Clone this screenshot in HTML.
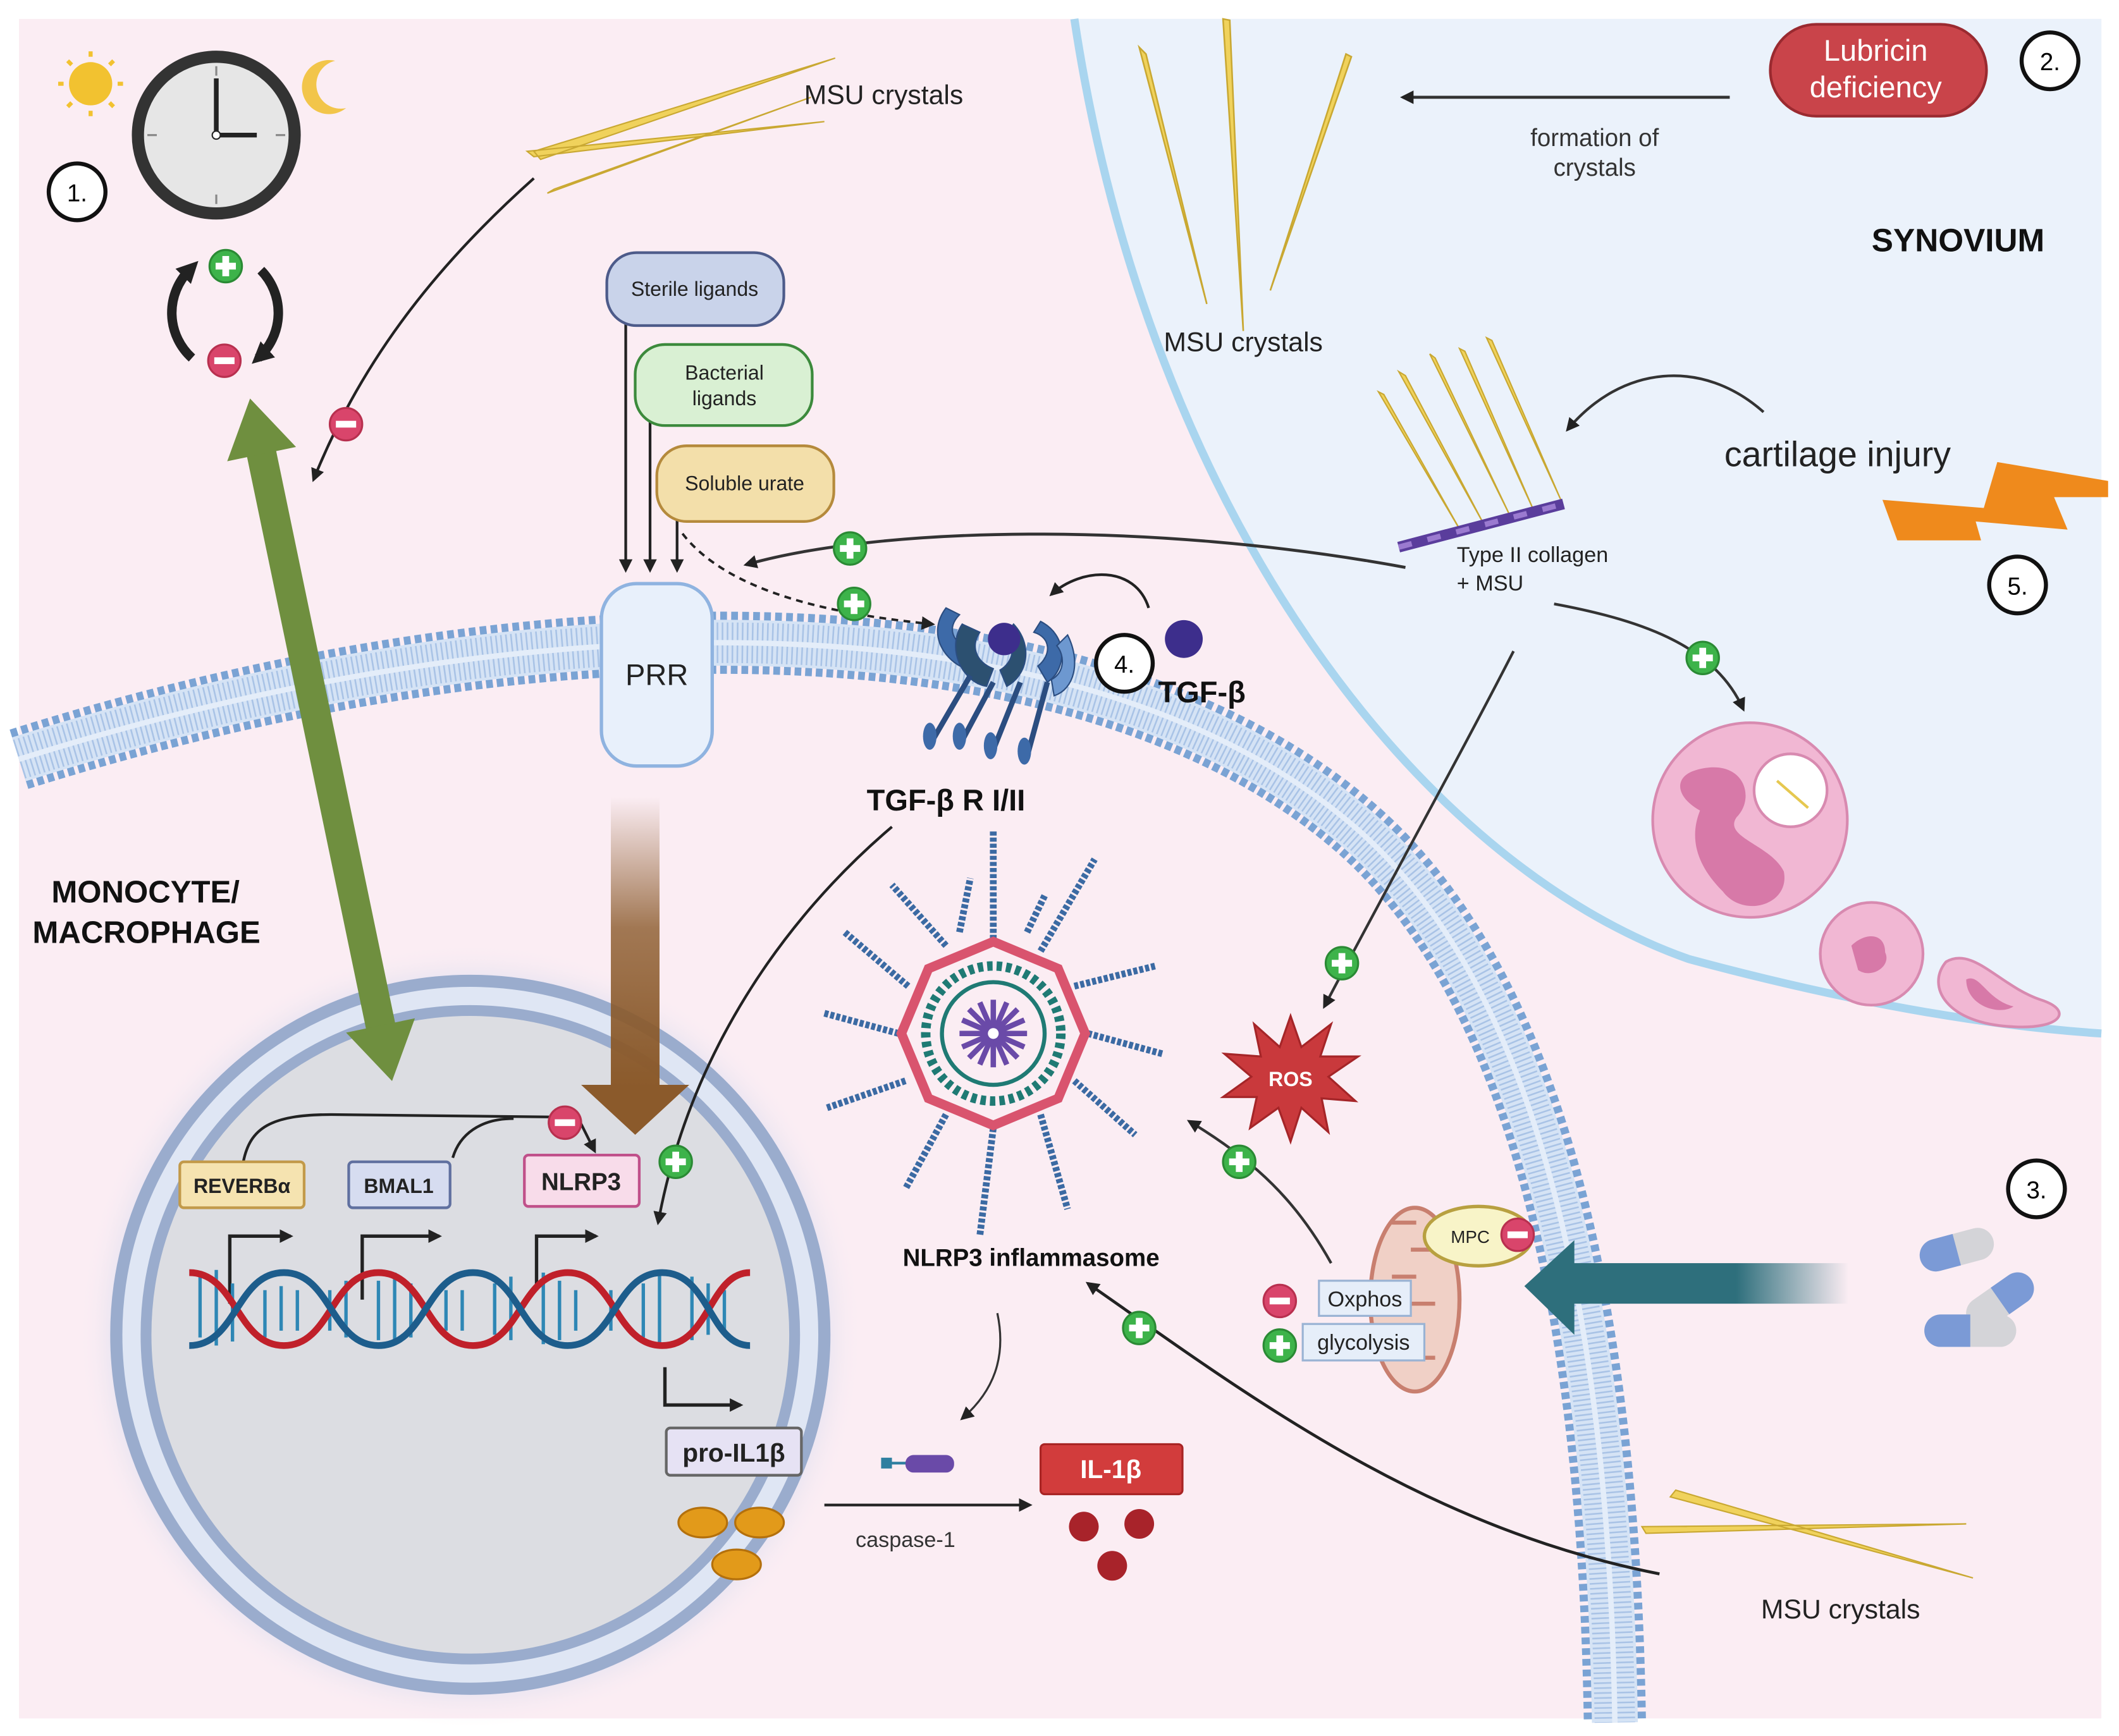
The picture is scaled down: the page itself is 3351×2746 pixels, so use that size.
<!DOCTYPE html>
<html><head><meta charset="utf-8"><style>
html,body{margin:0;padding:0;background:#fff;}
svg{display:block;}
text{font-family:"Liberation Sans",sans-serif;}
</style></head><body>
<svg width="3351" height="2746" viewBox="0 0 1568 1285" xmlns="http://www.w3.org/2000/svg">
<defs>
<marker id="ah" viewBox="0 0 10 10" refX="8" refY="5" markerWidth="10" markerHeight="10" markerUnits="userSpaceOnUse" orient="auto"><path d="M0,0 L10,5 L0,10 z" fill="#222"/></marker>
<marker id="ahb" viewBox="0 0 10 10" refX="6" refY="5" markerWidth="16" markerHeight="16" markerUnits="userSpaceOnUse" orient="auto"><path d="M0,0 L10,5 L0,10 z" fill="#222"/></marker>
<marker id="ahbs" viewBox="0 0 10 10" refX="4" refY="5" markerWidth="16" markerHeight="16" markerUnits="userSpaceOnUse" orient="auto-start-reverse"><path d="M0,0 L10,5 L0,10 z" fill="#222"/></marker>
<g id="plus"><circle r="12" fill="#3db34a" stroke="#2a8a34" stroke-width="1.5"/><rect x="-7.5" y="-2.5" width="15" height="5" fill="#fff"/><rect x="-2.5" y="-7.5" width="5" height="15" fill="#fff"/></g>
<g id="minus"><circle r="12" fill="#d9456b" stroke="#b8304f" stroke-width="1.5"/><rect x="-7.5" y="-2.5" width="15" height="5" fill="#fff"/></g>
<linearGradient id="brown" x1="0" y1="0" x2="0" y2="1"><stop offset="0" stop-color="#8b5a2b" stop-opacity="0"/><stop offset="0.45" stop-color="#8b5a2b" stop-opacity="0.8"/><stop offset="1" stop-color="#8b5a2b"/></linearGradient>
<linearGradient id="teal" x1="1" y1="0" x2="0" y2="0"><stop offset="0" stop-color="#2e6f7c" stop-opacity="0"/><stop offset="0.4" stop-color="#2e6f7c"/><stop offset="1" stop-color="#2e6f7c"/></linearGradient>
<radialGradient id="glow"><stop offset="0.85" stop-color="#c8d4ef" stop-opacity="0.9"/><stop offset="1" stop-color="#fbeef3" stop-opacity="0"/></radialGradient>
</defs>
<rect width="1568" height="1285" fill="#fff"/>
<rect x="14" y="14" width="1541" height="1258" fill="#fbedf3"/>
<path d="M795,14 C850,380 1050,640 1250,710 C1380,745 1480,760 1555,765 L1555,14 Z" fill="#ebf2fb"/>
<path d="M795,14 C850,380 1050,640 1250,710 C1380,745 1480,760 1555,765" fill="none" stroke="#a9d5ef" stroke-width="6"/>
<g fill="none">
<path d="M14,562 C400,440 800,440 1000,610 C1130,720 1190,950 1195,1275" stroke="#7aa3d4" stroke-width="46" stroke-dasharray="5 3"/>
<path d="M14,562 C400,440 800,440 1000,610 C1130,720 1190,950 1195,1275" stroke="#d5e3f5" stroke-width="34"/>
<path d="M14,562 C400,440 800,440 1000,610 C1130,720 1190,950 1195,1275" stroke="#a9c3e6" stroke-width="30" stroke-dasharray="1.2 2.5"/>
<path d="M14,562 C400,440 800,440 1000,610 C1130,720 1190,950 1195,1275" stroke="#e4edf9" stroke-width="4"/>
</g>
<circle cx="348" cy="988" r="290" fill="url(#glow)"/>
<circle cx="348" cy="988" r="262" fill="#dfe6f4" stroke="#9aaccd" stroke-width="9"/>
<circle cx="348" cy="988" r="240" fill="#dcdde2" stroke="#9aaccd" stroke-width="8"/>
<circle cx="160" cy="100" r="58" fill="#e6e6e6" stroke="#333" stroke-width="9"/>
<g stroke="#888" stroke-width="1.5"><line x1="160" y1="49" x2="160" y2="56"/><line x1="160" y1="144" x2="160" y2="151"/><line x1="109" y1="100" x2="116" y2="100"/><line x1="204" y1="100" x2="211" y2="100"/></g>
<path d="M160,100 V58 M160,100 H190" stroke="#222" stroke-width="3.5" fill="none"/>
<circle cx="160" cy="100" r="3" fill="#fff" stroke="#222"/>
<circle cx="67" cy="62" r="16" fill="#f2c230"/>
<g stroke="#f2c230" stroke-width="3"><line x1="67" y1="38" x2="67" y2="42"/><line x1="67" y1="82" x2="67" y2="86"/><line x1="43" y1="62" x2="47" y2="62"/><line x1="87" y1="62" x2="91" y2="62"/><line x1="50" y1="45" x2="53" y2="48"/><line x1="81" y1="76" x2="84" y2="79"/><line x1="50" y1="79" x2="53" y2="76"/><line x1="81" y1="48" x2="84" y2="45"/></g>
<path d="M248,45 A20,20 0 1,0 256,80 A16,16 0 1,1 248,45 Z" fill="#f2c54a"/>
<circle cx="57" cy="142" r="21" fill="#fff" stroke="#111" stroke-width="3"/><text x="57" y="149" font-size="18" text-anchor="middle">1.</text>
<path d="M140,200 A45,45 0 0,0 142,265" fill="none" stroke="#222" stroke-width="7" marker-start="url(#ahbs)"/>
<path d="M193,200 A45,45 0 0,1 191,265" fill="none" stroke="#222" stroke-width="7" marker-end="url(#ahb)"/>
<use href="#plus" x="167" y="197"/><use href="#minus" x="166" y="267"/>
<g transform="translate(185,295) rotate(78.25)"><rect x="35" y="-11" width="446" height="22" fill="#6f8f3f"/><path d="M0,0 L42,-26 L42,26 Z M516,0 L474,-26 L474,26 Z" fill="#6f8f3f"/></g>
<rect x="452" y="590" width="36" height="215" fill="url(#brown)"/><path d="M430,803 L510,803 L470,840 Z" fill="#8b5a2b"/>
<path d="M395,112 L618,43 L400,118 Z M405,143 L600,72 L410,140 Z M390,112 L610,90 L395,116 Z" fill="#f0d25c" stroke="#c9a832" stroke-width="1"/>
<text x="595" y="77" font-size="20" fill="#222">MSU crystals</text>
<path d="M395,132 C330,190 270,260 232,355" fill="none" stroke="#222" stroke-width="2" marker-end="url(#ah)"/>
<use href="#minus" x="256" y="314"/>
<path d="M463,240 V422" stroke="#222" stroke-width="2" marker-end="url(#ah)"/>
<path d="M481,312 V422" stroke="#222" stroke-width="2" marker-end="url(#ah)"/>
<path d="M501,385 V422" stroke="#222" stroke-width="2" marker-end="url(#ah)"/>
<rect x="449" y="187" width="131" height="54" rx="22" fill="#c9d3ea" stroke="#4d5b8a" stroke-width="2"/><text x="514" y="219" font-size="15" text-anchor="middle" fill="#222">Sterile ligands</text>
<rect x="470" y="255" width="131" height="60" rx="22" fill="#d9f0d3" stroke="#3c8a3c" stroke-width="2"/><text x="536" y="281" font-size="15" text-anchor="middle" fill="#222">Bacterial</text><text x="536" y="300" font-size="15" text-anchor="middle" fill="#222">ligands</text>
<rect x="486" y="330" width="131" height="56" rx="22" fill="#f3dfaa" stroke="#b58a3c" stroke-width="2"/><text x="551" y="363" font-size="15" text-anchor="middle" fill="#222">Soluble urate</text>
<path d="M505,395 C540,440 620,455 690,462" fill="none" stroke="#222" stroke-width="1.8" stroke-dasharray="5 4" marker-end="url(#ah)"/>
<path d="M1040,420 C850,385 650,390 552,418" fill="none" stroke="#333" stroke-width="2.2" marker-end="url(#ah)"/>
<use href="#plus" x="629" y="406"/><use href="#plus" x="632" y="447"/>
<rect x="445" y="432" width="82" height="135" rx="26" fill="#e8f0fb" stroke="#8fb3e0" stroke-width="2.5"/><text x="486" y="507" font-size="22" text-anchor="middle" fill="#222">PRR</text>
<g fill="#3d6aa8" stroke="#2b4d80" stroke-width="1">
<path d="M700,450 C685,470 700,490 715,495 L718,480 C705,476 700,465 710,455 Z"/>
<path d="M770,460 C790,470 790,495 775,505 L768,493 C778,485 778,472 765,468 Z"/>
<path d="M790,470 C800,490 795,510 780,515 L778,503 C788,498 788,485 782,478 Z" fill="#6d98d0"/>
<path d="M712,462 C700,480 712,505 730,508 L735,495 C722,490 718,478 725,468 Z" fill="#2c5070"/>
<path d="M750,462 C765,478 760,500 745,508 L740,496 C750,490 752,478 744,470 Z" fill="#2c5070"/>
</g>
<g stroke="#2b4d80" stroke-width="4"><line x1="718" y1="500" x2="690" y2="548"/><line x1="735" y1="505" x2="712" y2="548"/><line x1="755" y1="505" x2="735" y2="555"/><line x1="775" y1="505" x2="760" y2="560"/></g>
<g fill="#3d6aa8"><ellipse cx="688" cy="545" rx="5" ry="10"/><ellipse cx="710" cy="545" rx="5" ry="10"/><ellipse cx="733" cy="552" rx="5" ry="10"/><ellipse cx="758" cy="556" rx="5" ry="10"/></g>
<circle cx="743" cy="473" r="12" fill="#3d2e8c"/>
<path d="M850,450 C840,418 800,420 778,440" fill="none" stroke="#222" stroke-width="2" marker-end="url(#ah)"/>
<circle cx="876" cy="473" r="14" fill="#3d2e8c"/>
<circle cx="832" cy="491" r="21" fill="#fff" stroke="#111" stroke-width="3"/><text x="832" y="498" font-size="18" text-anchor="middle">4.</text>
<text x="857" y="520" font-size="22" font-weight="bold" fill="#111">TGF-β</text>
<text x="700" y="600" font-size="22" font-weight="bold" fill="#111" text-anchor="middle">TGF-β R I/II</text>
<path d="M660,612 C580,680 510,780 487,905" fill="none" stroke="#222" stroke-width="2" marker-end="url(#ah)"/>
<use href="#plus" x="500" y="860"/>
<text x="38" y="668" font-size="23" font-weight="bold" fill="#111">MONOCYTE/</text>
<text x="24" y="698" font-size="23" font-weight="bold" fill="#111">MACROPHAGE</text>
<path d="M180,860 C185,835 200,825 245,825 L428,827" fill="none" stroke="#222" stroke-width="2"/>
<path d="M428,828 L440,852" stroke="#222" stroke-width="2" marker-end="url(#ah)"/>
<path d="M335,857 C340,840 355,828 380,828" fill="none" stroke="#222" stroke-width="2"/>
<use href="#minus" x="418" y="831"/>
<rect x="133" y="860" width="92" height="34" rx="3" fill="#f5e3b0" stroke="#c29a4a" stroke-width="2"/><text x="179" y="883" font-size="15" font-weight="bold" text-anchor="middle" fill="#222">REVERBα</text>
<rect x="258" y="860" width="75" height="34" rx="3" fill="#d6dcf0" stroke="#6070a0" stroke-width="2"/><text x="295" y="883" font-size="15" font-weight="bold" text-anchor="middle" fill="#222">BMAL1</text>
<rect x="388" y="855" width="85" height="38" rx="3" fill="#f8dcea" stroke="#c0508a" stroke-width="2"/><text x="430" y="881" font-size="18" font-weight="bold" text-anchor="middle" fill="#222">NLRP3</text>
<path d="M170,965 V915 H215" fill="none" stroke="#222" stroke-width="2.5" marker-end="url(#ah)"/>
<path d="M268,962 V915 H325" fill="none" stroke="#222" stroke-width="2.5" marker-end="url(#ah)"/>
<path d="M397,955 V915 H441" fill="none" stroke="#222" stroke-width="2.5" marker-end="url(#ah)"/>
<g stroke-width="2.5">
<path d="M148,945 V990 M160,940 V996 M172,950 V993 M196,955 V990 M208,952 V985 M220,955 V985 M244,955 V985 M256,948 V990 M280,948 V992 M292,942 V995 M304,950 V990 M330,955 V985 M342,955 V985 M366,950 V988 M378,945 V992 M402,942 V995 M414,948 V992 M426,955 V985 M452,955 V985 M476,950 V990 M488,944 V994 M512,945 V992 M524,950 V988 M536,955 V985" stroke="#2e87b5"/>
</g>
<path d="M140,942 C175,942 175,996 210,996 S245,942 280,942 S315,996 350,996 S385,942 420,942 S455,996 490,996 S525,942 555,942" fill="none" stroke="#c0202a" stroke-width="5"/>
<path d="M140,996 C175,996 175,942 210,942 S245,996 280,996 S315,942 350,942 S385,996 420,996 S455,942 490,942 S525,996 555,996" fill="none" stroke="#1d5d8c" stroke-width="5"/>
<path d="M492,1012 V1040 H548" fill="none" stroke="#222" stroke-width="2.5" marker-end="url(#ah)"/>
<rect x="493" y="1057" width="100" height="35" rx="3" fill="#e6e2f4" stroke="#666" stroke-width="2"/><text x="543" y="1082" font-size="19" font-weight="bold" text-anchor="middle" fill="#222">pro-IL1β</text>
<g fill="#e29a1a" stroke="#b4700c" stroke-width="1.5"><ellipse cx="520" cy="1127" rx="18" ry="11"/><ellipse cx="562" cy="1127" rx="18" ry="11"/><ellipse cx="545" cy="1158" rx="18" ry="11"/></g>
<g stroke="#3b6aa3" stroke-width="5" stroke-dasharray="3 1.5">
<line x1="735" y1="695" x2="735" y2="615"/><line x1="770" y1="704" x2="810" y2="636"/><line x1="795" y1="730" x2="855" y2="715"/><line x1="805" y1="765" x2="860" y2="780"/><line x1="795" y1="800" x2="840" y2="840"/><line x1="770" y1="825" x2="790" y2="895"/><line x1="735" y1="835" x2="725" y2="915"/><line x1="700" y1="825" x2="670" y2="880"/><line x1="670" y1="800" x2="612" y2="820"/><line x1="665" y1="765" x2="610" y2="750"/><line x1="672" y1="730" x2="625" y2="690"/><line x1="700" y1="700" x2="660" y2="655"/><line x1="760" y1="690" x2="773" y2="663"/><line x1="710" y1="690" x2="718" y2="650"/>
</g>
<polygon points="735,697 783,717 803,765 783,813 735,833 687,813 667,765 687,717" fill="#fbedf3" stroke="#d9546e" stroke-width="7"/>
<circle cx="735" cy="765" r="50" fill="none" stroke="#1f7a74" stroke-width="7" stroke-dasharray="4 3"/>
<circle cx="735" cy="765" r="38" fill="#fbedf3" stroke="#1f7a74" stroke-width="3"/>
<g stroke="#6a4aa8" stroke-width="4"><line x1="735" y1="740" x2="735" y2="790"/><line x1="710" y1="765" x2="760" y2="765"/><line x1="717" y1="747" x2="753" y2="783"/><line x1="753" y1="747" x2="717" y2="783"/><line x1="725" y1="742" x2="745" y2="788"/><line x1="745" y1="742" x2="725" y2="788"/><line x1="712" y1="755" x2="758" y2="775"/><line x1="758" y1="755" x2="712" y2="775"/></g>
<circle cx="735" cy="765" r="4" fill="#fff"/>
<text x="763" y="937" font-size="18" font-weight="bold" text-anchor="middle" fill="#111">NLRP3 inflammasome</text>
<path d="M738,972 C745,1005 735,1030 712,1050" fill="none" stroke="#333" stroke-width="1.5" marker-end="url(#ah)"/>
<rect x="652" y="1079" width="8" height="8" fill="#2e7fa0"/><line x1="660" y1="1083" x2="672" y2="1083" stroke="#2e7fa0" stroke-width="2"/><rect x="670" y="1077" width="36" height="13" rx="6" fill="#6a4aa8"/>
<path d="M610,1114 H762" stroke="#222" stroke-width="2" marker-end="url(#ah)"/>
<text x="670" y="1145" font-size="16" text-anchor="middle" fill="#333">caspase-1</text>
<rect x="770" y="1069" width="105" height="37" rx="3" fill="#d23c3c" stroke="#a82424" stroke-width="1.5"/><text x="822" y="1094" font-size="19" font-weight="bold" text-anchor="middle" fill="#fff">IL-1β</text>
<g fill="#a8232a"><circle cx="802" cy="1130" r="11"/><circle cx="843" cy="1128" r="11"/><circle cx="823" cy="1159" r="11"/></g>
<polygon points="955,752 963,775 985,758 977,782 1005,782 983,797 1003,815 978,813 983,838 963,820 955,845 946,820 925,835 930,812 905,812 926,797 906,780 933,782 928,758 947,775" fill="#c9393c" stroke="#a52528" stroke-width="1.5"/>
<text x="955" y="804" font-size="15" font-weight="bold" text-anchor="middle" fill="#fff">ROS</text>
<path d="M1120,482 C1080,560 1030,650 980,745" fill="none" stroke="#333" stroke-width="2" marker-end="url(#ah)"/>
<use href="#plus" x="993" y="713"/>
<path d="M985,935 C960,890 930,860 880,830" fill="none" stroke="#333" stroke-width="2" marker-end="url(#ah)"/>
<use href="#plus" x="917" y="860"/>
<path d="M1228,1165 C1050,1130 920,1030 805,950" fill="none" stroke="#222" stroke-width="2.2" marker-end="url(#ah)"/>
<use href="#plus" x="843" y="983"/>
<ellipse cx="1047" cy="962" rx="33" ry="68" fill="#f0d0c6" stroke="#c87f6f" stroke-width="3"/>
<path d="M1030,905 h18 M1062,925 h-18 M1030,945 h18 M1062,965 h-18 M1030,985 h18 M1062,1005 h-18" stroke="#c87f6f" stroke-width="3"/>
<ellipse cx="1094" cy="915" rx="40" ry="22" fill="#f8f4c8" stroke="#b8a040" stroke-width="2.5"/><text x="1088" y="920" font-size="13" text-anchor="middle" fill="#222">MPC</text>
<use href="#minus" x="1123" y="914"/>
<rect x="976" y="948" width="68" height="26" fill="#e6eef9" stroke="#9ab3d4" stroke-width="1.5"/><text x="1010" y="967" font-size="16" text-anchor="middle" fill="#222">Oxphos</text>
<rect x="964" y="980" width="90" height="27" fill="#e6eef9" stroke="#9ab3d4" stroke-width="1.5"/><text x="1009" y="999" font-size="16" text-anchor="middle" fill="#222">glycolysis</text>
<use href="#minus" x="947" y="963"/><use href="#plus" x="947" y="996"/>
<rect x="1160" y="935" width="208" height="30" fill="url(#teal)"/><path d="M1128,952 L1165,918 L1165,988 Z" fill="#2e6f7c"/>
<g transform="translate(1448,925) rotate(-15)"><rect x="-28" y="-12" width="56" height="24" rx="12" fill="#d4d4d8"/><path d="M-16,-12 H0 V12 H-16 A12,12 0 0,1 -16,-12 Z" fill="#7b9ad6"/></g>
<g transform="translate(1480,963) rotate(-35)"><rect x="-28" y="-12" width="56" height="24" rx="12" fill="#d4d4d8"/><path d="M16,-12 H0 V12 H16 A12,12 0 0,0 16,-12 Z" fill="#7b9ad6"/></g>
<g transform="translate(1458,985)"><rect x="-34" y="-12" width="68" height="24" rx="12" fill="#d4d4d8"/><path d="M-22,-12 H0 V12 H-22 A12,12 0 0,1 -22,-12 Z" fill="#7b9ad6"/></g>
<circle cx="1507" cy="880" r="21" fill="#fff" stroke="#111" stroke-width="3"/><text x="1507" y="887" font-size="18" text-anchor="middle">3.</text>
<path d="M1215,1130 L1455,1128 L1218,1135 Z M1240,1103 L1460,1168 L1236,1108 Z" fill="#f0d25c" stroke="#c9a832" stroke-width="1"/>
<text x="1362" y="1198" font-size="20" text-anchor="middle" fill="#222">MSU crystals</text>
<rect x="1310" y="18" width="160" height="68" rx="34" fill="#c9444a" stroke="#9a2a30" stroke-width="2"/>
<text x="1388" y="45" font-size="22" text-anchor="middle" fill="#fff">Lubricin</text><text x="1388" y="72" font-size="22" text-anchor="middle" fill="#fff">deficiency</text>
<circle cx="1517" cy="45" r="21" fill="#fff" stroke="#111" stroke-width="3"/><text x="1517" y="52" font-size="18" text-anchor="middle">2.</text>
<path d="M1280,72 H1038" stroke="#333" stroke-width="2.2" marker-end="url(#ah)"/>
<text x="1180" y="108" font-size="18" text-anchor="middle" fill="#333">formation of</text><text x="1180" y="130" font-size="18" text-anchor="middle" fill="#333">crystals</text>
<text x="1385" y="186" font-size="24" font-weight="bold" fill="#111">SYNOVIUM</text>
<path d="M843,35 L893,225 L848,40 Z M905,14 L920,245 L910,15 Z M1000,42 L940,215 L996,40 Z" fill="#f0d25c" stroke="#c9a832" stroke-width="1.2"/>
<text x="920" y="260" font-size="20" text-anchor="middle" fill="#222">MSU crystals</text>
<path d="M1020,290 L1082,395 L1024,292 Z M1035,275 L1098,388 L1040,278 Z M1058,262 L1118,383 L1062,265 Z M1080,258 L1135,378 L1084,260 Z M1100,250 L1155,370 L1104,252 Z" fill="#f0d25c" stroke="#c9a832" stroke-width="1"/>
<line x1="1035" y1="405" x2="1157" y2="373" stroke="#5a3d9c" stroke-width="8"/>
<line x1="1035" y1="405" x2="1157" y2="373" stroke="#9b7ad0" stroke-width="4" stroke-dasharray="10 12"/>
<text x="1078" y="416" font-size="16" fill="#222">Type II collagen</text><text x="1078" y="437" font-size="16" fill="#222">+ MSU</text>
<path d="M1305,305 C1260,265 1200,270 1160,318" fill="none" stroke="#333" stroke-width="2" marker-end="url(#ah)"/>
<text x="1276" y="345" font-size="26" fill="#222">cartilage injury</text>
<polygon points="1404,400 1393,370 1468,376 1478,342 1560,356 1560,368 1520,368 1530,392 1462,386 1466,400" fill="#ef8a1c"/>
<circle cx="1493" cy="433" r="21" fill="#fff" stroke="#111" stroke-width="3"/><text x="1493" y="440" font-size="18" text-anchor="middle">5.</text>
<path d="M1150,447 C1220,460 1270,480 1290,525" fill="none" stroke="#333" stroke-width="2" marker-end="url(#ah)"/>
<use href="#plus" x="1260" y="487"/>
<circle cx="1295" cy="607" r="72" fill="#f1b7d3" stroke="#d88ab0" stroke-width="2"/>
<path d="M1255,570 C1290,560 1300,590 1285,605 C1275,620 1310,625 1320,645 C1325,670 1290,680 1275,660 C1255,640 1250,620 1258,600 C1240,590 1238,575 1255,570 Z" fill="#d779a8"/>
<circle cx="1325" cy="585" r="27" fill="#fff" stroke="#d88ab0" stroke-width="2"/><line x1="1315" y1="578" x2="1338" y2="598" stroke="#e6c850" stroke-width="2"/>
<circle cx="1385" cy="706" r="38" fill="#f1b7d3" stroke="#d88ab0" stroke-width="2"/>
<path d="M1370,700 C1380,690 1395,690 1395,705 C1400,715 1385,725 1375,718 Z" fill="#d779a8"/>
<path d="M1440,712 C1460,700 1480,730 1510,740 C1535,748 1525,762 1490,760 C1440,758 1425,730 1440,712 Z" fill="#f1b7d3" stroke="#d88ab0" stroke-width="2"/>
<path d="M1455,725 C1465,720 1470,740 1490,745 C1480,752 1455,745 1455,725 Z" fill="#d779a8"/>
</svg>
</body></html>
